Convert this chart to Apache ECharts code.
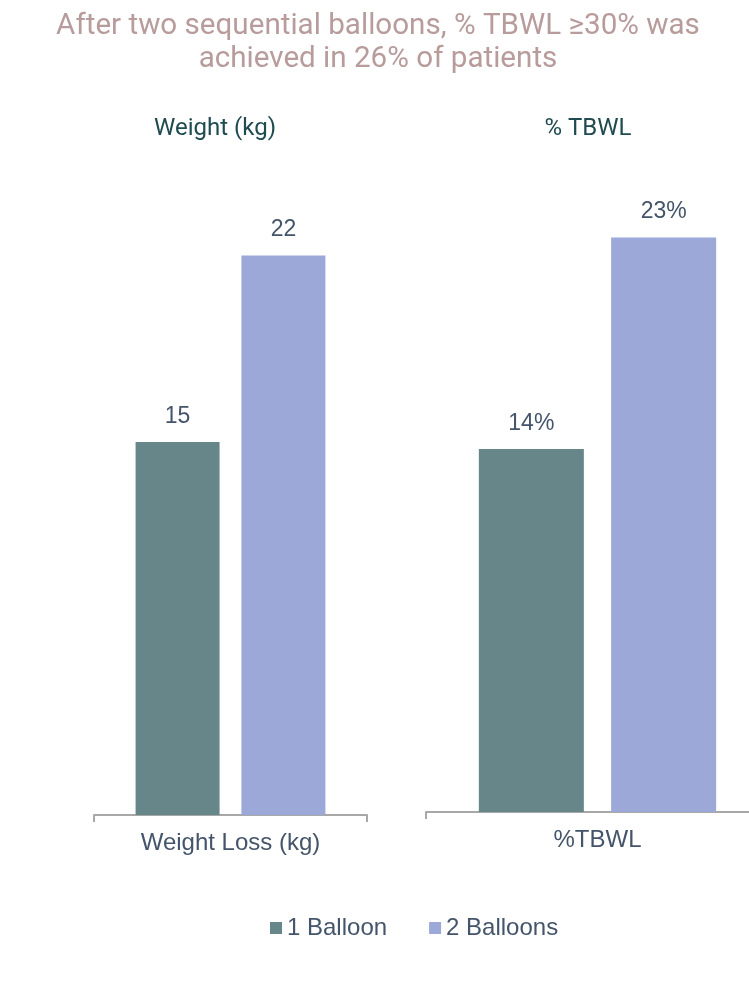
<!DOCTYPE html>
<html>
<head>
<meta charset="utf-8">
<script src="https://cdn.jsdelivr.net/npm/echarts@6/dist/echarts.min.js"></script>
<style>
html,body{margin:0;padding:0;background:#fff;}
#chart{width:749px;height:989px;}
</style>
</head>
<body>
<div id="chart"></div>
<script>
var chartTitle = 'After two sequential balloons, % TBWL \u226530% was\nachieved in 26% of patients';
var panelTitles = ['Weight (kg)', '% TBWL'];
var categories = ['Weight Loss (kg)', '%TBWL'];
var seriesNames = ['1 Balloon', '2 Balloons'];
var oneBalloon = [14.8, 14.4];
var twoBalloons = [22.2, 22.8];
var labelSuffix = ['', '%'];

var colors = ['#678689', '#9ba8d8'];
var labelColor = '#44546a';
var chart = echarts.init(document.getElementById('chart'), null, {renderer: 'canvas'});

var grids = [
  {left: 94, width: 273, top: 185, bottom: 174, outerBoundsMode: 'none', containLabel: false},
  {left: 426, width: 343, top: 182, bottom: 177, outerBoundsMode: 'none', containLabel: false}
];
var barWidths = [84, 105];
var titleX = [215, 588];

var xAxes = [], yAxes = [], series = [], titles = [];
titles.push({
  text: chartTitle, left: 378, top: 10, textAlign: 'center', padding: 0,
  textStyle: {fontFamily: 'Roboto', fontWeight: 'normal', fontSize: 29.6, lineHeight: 33, color: '#b89b9b'}
});
for (var p = 0; p < 2; p++) {
  titles.push({
    text: panelTitles[p], left: titleX[p], top: 117, textAlign: 'center', padding: 0,
    textStyle: {fontFamily: 'Roboto', fontWeight: 'normal', fontSize: 24, color: '#1e4a50'}
  });
  xAxes.push({
    type: 'category', gridIndex: p, data: [categories[p]],
    axisLine: {lineStyle: {color: '#a8a8a8', width: 2}},
    axisTick: {show: true, interval: 0, length: 7, lineStyle: {color: '#a8a8a8', width: 2}},
    axisLabel: {margin: 16, fontSize: 24, color: labelColor, fontFamily: 'Liberation Sans'}
  });
  yAxes.push({type: 'value', gridIndex: p, min: 0, max: 25, show: false, splitLine: {show: false}});
  (function (pp) {
    var vals = [oneBalloon[pp], twoBalloons[pp]];
    for (var s = 0; s < 2; s++) {
      series.push({
        name: seriesNames[s], type: 'bar', xAxisIndex: pp, yAxisIndex: pp,
        data: [vals[s]], barWidth: barWidths[pp], barGap: '26%',
        itemStyle: {color: colors[s]},
        label: {
          show: true, position: 'top', distance: 14, fontSize: 23, color: labelColor,
          fontFamily: 'Liberation Sans',
          formatter: function (prm) { return Math.round(prm.value) + labelSuffix[pp]; }
        }
      });
    }
  })(p);
}

chart.setOption({
  animation: false,
  backgroundColor: '#ffffff',
  title: titles,
  grid: grids,
  xAxis: xAxes,
  yAxis: yAxes,
  legend: {
    data: seriesNames, left: 270, top: 916, icon: 'rect', itemWidth: 12, itemHeight: 12,
    itemGap: 42, padding: 0,
    textStyle: {fontSize: 24, color: labelColor, fontFamily: 'Liberation Sans'}
  },
  series: series
});
</script>
</body>
</html>
